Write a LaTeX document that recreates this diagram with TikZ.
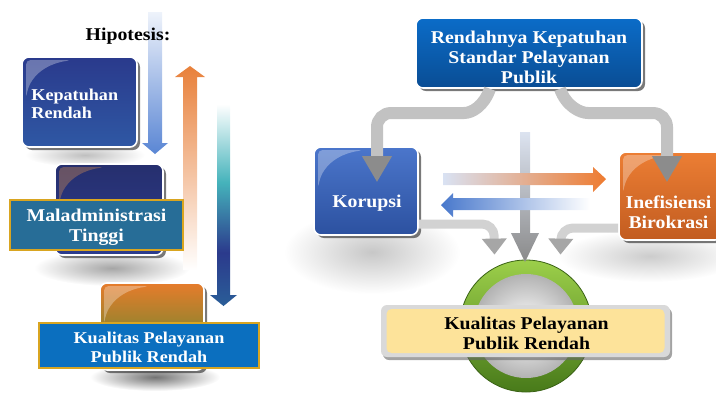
\documentclass[tikz,border=0pt]{standalone}
\usepackage{fontspec}
\setmainfont{Liberation Serif}[FakeStretch=1.1]
\usetikzlibrary{shadows,calc,arrows.meta}
\definecolor{kepT}{HTML}{2A3A8C}
\definecolor{kepB}{HTML}{2F58A4}
\definecolor{midT}{HTML}{262F6E}
\definecolor{midB}{HTML}{2C3C8E}
\definecolor{malF}{HTML}{276D97}
\definecolor{goldB}{HTML}{D9A520}
\definecolor{botT}{HTML}{E67C2C}
\definecolor{botB}{HTML}{4E8A2E}
\definecolor{kuaF}{HTML}{0B6FBF}
\definecolor{stdT}{HTML}{0B6CC8}
\definecolor{stdB}{HTML}{0A4D94}
\definecolor{korT}{HTML}{4B76CB}
\definecolor{korB}{HTML}{2C51A0}
\definecolor{ineT}{HTML}{EC7E34}
\definecolor{ineB}{HTML}{C25C20}
\definecolor{yelF}{HTML}{FDE39A}
\definecolor{grnT}{HTML}{9CCF4A}
\definecolor{grnB}{HTML}{487A1A}
\definecolor{arBlue}{HTML}{5A86D4}
\definecolor{arOrange}{HTML}{E8803A}
\definecolor{tealA}{HTML}{2A5E98}
\definecolor{tealN}{HTML}{2B3A8C}
\definecolor{tealM}{HTML}{45B3BB}
\definecolor{hOrange}{HTML}{EE7B30}
\definecolor{hLight}{HTML}{D9E2F3}
\definecolor{hBlue}{HTML}{4878CC}
\definecolor{vTop}{HTML}{DCE3F0}
\definecolor{vBot}{HTML}{8A8A8A}
\definecolor{connShaft}{HTML}{C2C2C2}
\definecolor{connHead}{HTML}{8C8C8C}
\definecolor{lowShaft}{HTML}{D2D2D2}
\definecolor{lowHead}{HTML}{A6A6A6}
\pgfdeclareverticalshading{tealdown}{100bp}{color(0bp)=(tealA); color(25bp)=(tealA); color(38bp)=(tealN); color(55bp)=(tealM); color(74bp)=(white); color(100bp)=(white)}
\newcommand{\glossy}[2]{%
  \fill[#2, opacity=.3, rounded corners=4pt] ($(#1.north west)+(5,4)$) -- ($(#1.north west)+(50,4)$) .. controls ($(#1.north west)+(22,8)$) and ($(#1.north west)+(8,22)$) .. ($(#1.north west)+(5,42)$) -- cycle;}
\begin{document}
\begin{tikzpicture}[x=1pt,y=-1pt,
  rbox/.style={rounded corners=7pt, draw=white, line width=1.6pt, inner sep=0pt,
    drop shadow={shadow xshift=3pt,shadow yshift=-3pt,fill=black!75,opacity=.7}},
  wtxt/.style={text=white, font=\bfseries\fontsize{18}{20}\selectfont, align=center, inner sep=0pt},
  wtxtS/.style={text=white, font=\bfseries\fontsize{16.5}{18.5}\selectfont, align=center, inner sep=0pt},
  btxt/.style={text=black, font=\bfseries\fontsize{18}{20}\selectfont, align=center, inner sep=0pt},
  flatrect/.style={draw=goldB, line width=1.2pt, inner sep=0pt},
  conn/.style={draw=connShaft, line width=12pt, rounded corners=14pt,
    -{Triangle[length=26pt,width=28pt,color=connHead]}},
  lowconn/.style={draw=lowShaft, line width=9pt, rounded corners=12pt,
    -{Triangle[length=16pt,width=24pt,color=lowHead]}},
  softshadow/.style={inner color=black!#1, outer color=white}
]
\useasboundingbox (0,0) rectangle (716,392);
\path[clip] (0,0) rectangle (716,392);

% soft shadows
\shade[softshadow=25] (85,155) ellipse [x radius=60pt, y radius=12pt];
\shade[softshadow=35] (112,268) ellipse [x radius=78pt, y radius=18pt];
\shade[softshadow=55] (155,377) ellipse [x radius=65pt, y radius=14pt];
\shade[softshadow=22] (372,252) ellipse [x radius=88pt, y radius=42pt];
\shade[softshadow=20] (650,256) ellipse [x radius=92pt, y radius=26pt];

% ---------- left panel ----------
\shade[top color=white!90!arBlue, bottom color=arBlue]
  (148,12) -- (162,12) -- (162,143) -- (168,143) -- (155,154) -- (142,143) -- (148,143) -- cycle;
\shade[top color=arOrange, bottom color=white]
  (183,270) -- (197,270) -- (197,77) -- (205,77) -- (190,66) -- (175,77) -- (183,77) -- cycle;
\shade[shading=tealdown]
  (217,100) -- (230,100) -- (230,295) -- (237,295) -- (223.5,306) -- (210,295) -- (217,295) -- cycle;

\node[font=\bfseries\fontsize{18}{20}\selectfont, inner sep=0pt] (hip) at (128,36) {Hipotesis:};

\node[rbox, top color=kepT, bottom color=kepB, minimum width=115pt, minimum height=90pt] (kep) at (79.5,102) {};
\glossy{kep}{white}
\node[wtxtS, anchor=west, align=left] (kepL) at ($(kep.west)+(10,2)$) {Kepatuhan\\Rendah};

\node[rbox, top color=midT, bottom color=midB, minimum width=108pt, minimum height=91pt] (mid) at (109,209.5) {};
\glossy{mid}{orange!70!white}
\node[flatrect, fill=malF, minimum width=173pt, minimum height=50pt] (mal) at (96.5,225) {};
\node[wtxt] (malL) at ($(mal.center)+(0,2)$) {Maladministrasi\\Tinggi};

\node[rbox, top color=botT, bottom color=botB, minimum width=104pt, minimum height=87pt] (bot) at (152,326.5) {};
\glossy{bot}{white}
\node[flatrect, fill=kuaF, minimum width=220pt, minimum height=45pt] (kual) at (149,345.5) {};
\node[wtxtS] (kualL) at ($(kual.center)+(0,2)$) {Kualitas Pelayanan\\Publik Rendah};

% ---------- right panel ----------
\node[rbox, top color=stdT, bottom color=stdB, minimum width=226pt, minimum height=70pt] (std) at (529,53) {};
\node[wtxt] (stdL) at ($(std.center)+(0,4)$) {Rendahnya Kepatuhan\\Standar Pelayanan\\Publik};

\node[rbox, top color=korT, bottom color=korB, minimum width=104pt, minimum height=88pt] (kor) at (366,191) {};
\glossy{kor}{white}
\node[wtxt] (korL) at ($(kor.center)+(1,12)$) {Korupsi};

\node[rbox, top color=ineT, bottom color=ineB, minimum width=103pt, minimum height=88pt] (ine) at (670.5,196) {};
\glossy{ine}{white}
\node[wtxt] (ineL) at ($(ine.center)+(-2,16)$) {Inefisiensi\\Birokrasi};

% result circle
\node[circle, draw=grnB!80!black, line width=.8pt, top color=grnT, bottom color=grnB, minimum size=132pt, inner sep=0pt] (ring) at (526,326) {};
\node[circle, inner color=white, outer color=black!30, minimum size=104pt, inner sep=0pt] (ball) at (ring.center) {};
\node[rounded corners=6pt, fill=black!15, minimum width=289pt, minimum height=52pt, inner sep=0pt,
  drop shadow={shadow xshift=2pt,shadow yshift=-3pt,fill=black!60,opacity=.6}] (kualBg) at (525.5,331) {};
\node[rounded corners=5pt, fill=yelF, minimum width=278pt, minimum height=44pt, inner sep=0pt] (kualR) at (kualBg.center) {};
\node[btxt] (kualRL) at ($(kualR.center)+(1,2)$) {Kualitas Pelayanan\\Publik Rendah};

% central vertical arrow
\shade[top color=vTop, bottom color=vBot]
  (520,132) -- (530,132) -- (530,233) -- (539,233) -- (525,262) -- (511,233) -- (520,233) -- cycle;

% horizontal arrows
\shade[left color=hLight, right color=hOrange]
  (443,173) -- (593,173) -- (593,167) -- (606,179) -- (593,192) -- (593,185) -- (443,185) -- cycle;
\shade[left color=hBlue, right color=white]
  (590,198) -- (453,198) -- (453,193) -- (441,205) -- (453,217) -- (453,210) -- (590,210) -- cycle;

% gray connectors
\draw[conn] ([xshift=-39pt]std.south) .. controls (484,106) and (472,113) .. (450,113) -- (377,113) -- ([xshift=11pt,yshift=-36pt]kor.north);
\draw[conn] ([xshift=31pt]std.south) .. controls (566,106) and (580,113) .. (602,113) -- (667,113) -- ([xshift=-3.5pt,yshift=-31pt]ine.north);
\draw[lowconn] ([yshift=-33pt]kor.east) -- (494,224) -- ([xshift=-31.5pt,yshift=5pt]ring.north);
\draw[lowconn] ([yshift=-32pt]ine.west) -- (561,228) -- ([xshift=34.5pt,yshift=5pt]ring.north);
\end{tikzpicture}
\end{document}
